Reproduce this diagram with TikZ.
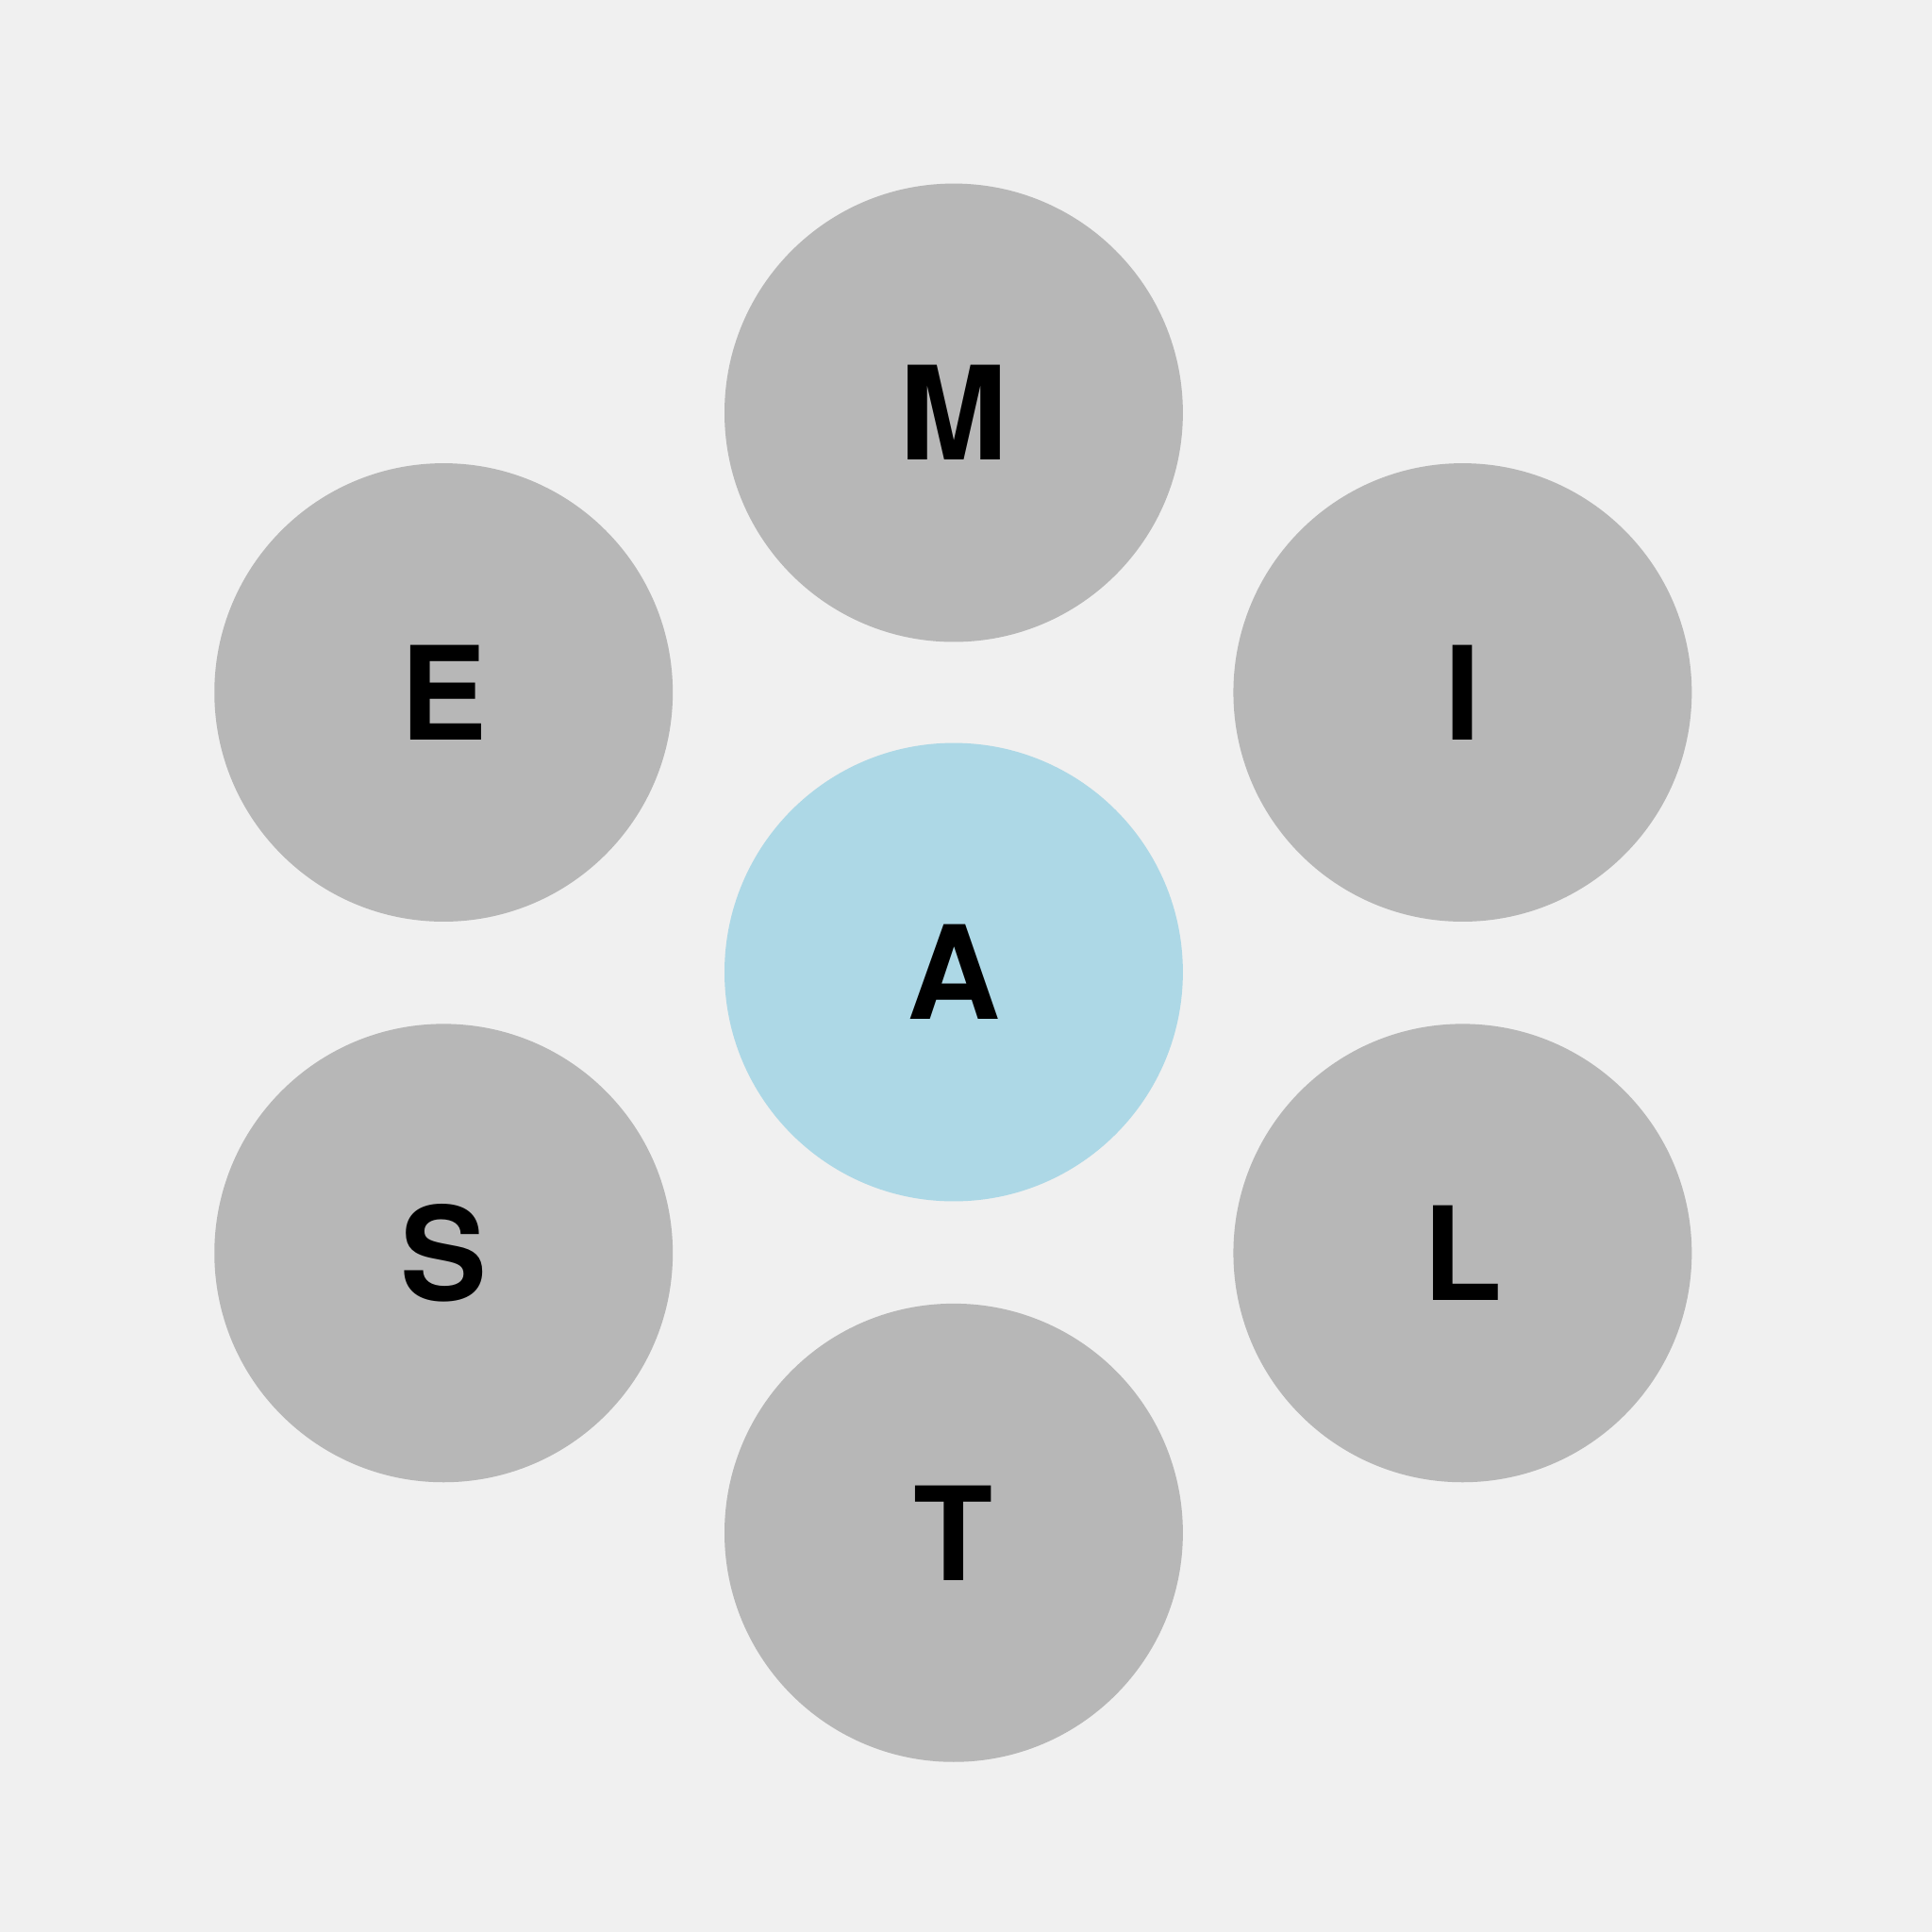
\documentclass[tikz,border=0pt]{standalone}
\usepackage{fontspec}
\setmainfont{TeX Gyre Heros}
\usetikzlibrary{positioning}
\definecolor{bggray}{HTML}{F0F0F0}
\definecolor{ballgray}{HTML}{B7B7B7}
\definecolor{ballblue}{HTML}{ADD8E6}
\begin{document}
\begin{tikzpicture}[bal/.style={circle,fill=ballgray,minimum size=3.72cm,inner sep=0,text=black,font=\fontsize{30}{30}\selectfont\bfseries},
	mid/.style={bal,fill=ballblue},
]
\fill[bggray] (0,0) rectangle (15.68,15.68);
\useasboundingbox (0,0) rectangle (15.68,15.68);
\node[mid] (a) at (7.74,7.79) {A};
\node[bal] (m) at (7.74,12.33) {M};
\node[bal] (e) at (3.60,10.06) {E};
\node[bal] (i) at (11.87,10.06) {I};
\node[bal] (s) at (3.60,5.51) {S};
\node[bal] (l) at (11.87,5.51) {L};
\node[bal] (t) at (7.74,3.24) {T};
\end{tikzpicture}
\end{document}
